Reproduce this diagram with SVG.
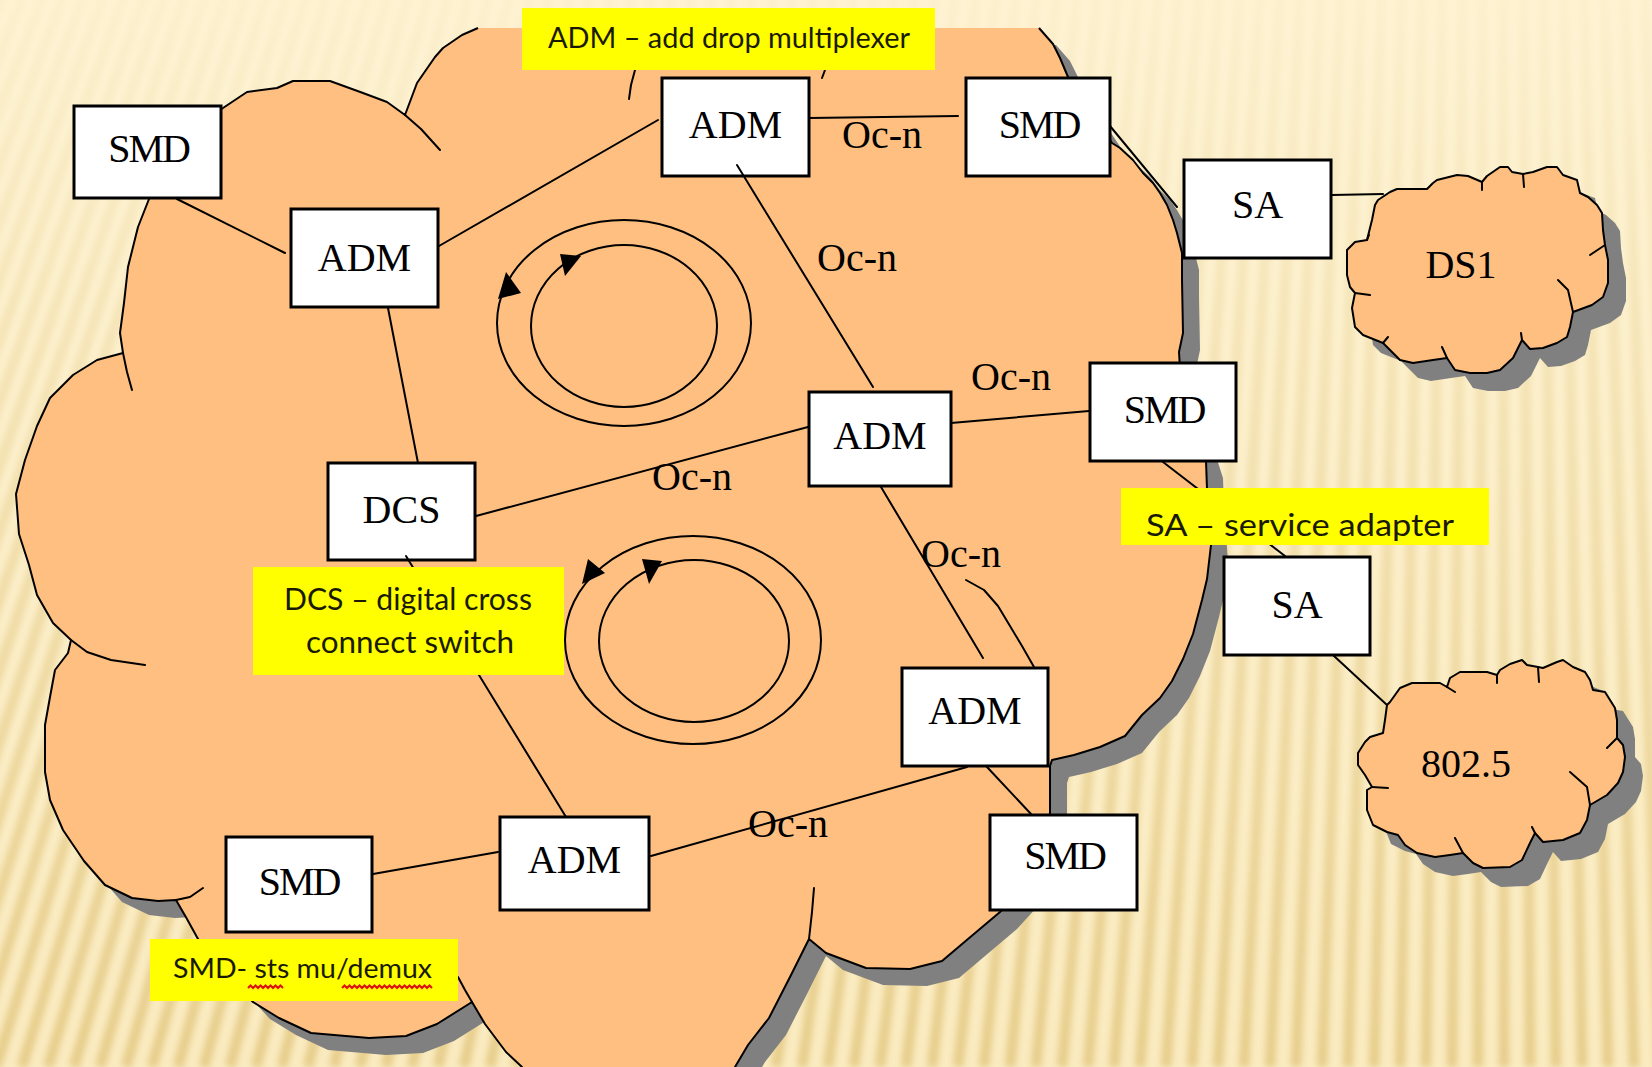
<svg xmlns="http://www.w3.org/2000/svg" width="1652" height="1067" viewBox="0 0 1652 1067">
<defs>
<linearGradient id="bg" x1="0" y1="0" x2="0" y2="1">
<stop offset="0" stop-color="#FEF3D4"/>
<stop offset="1" stop-color="#FAEBC0"/>
</linearGradient>
<linearGradient id="ray" gradientUnits="userSpaceOnUse" x1="0" y1="0" x2="0" y2="1067">
<stop offset="0" stop-color="#EBD59C" stop-opacity="0.12"/>
<stop offset="0.3" stop-color="#E9D295" stop-opacity="0.4"/>
<stop offset="1" stop-color="#E4C882" stop-opacity="0.85"/>
</linearGradient>
<filter id="soft" filterUnits="userSpaceOnUse" x="0" y="0" width="1652" height="1067">
<feGaussianBlur stdDeviation="3"/>
</filter>
<path id="mainCloud" d="M1039,28 L1053,44 L1060,58 L1068,77 L1090,110 L1112,143 L1120,148 L1133,160 L1143,173 L1153,183 L1160,193 L1167,205 L1173,220 L1177,233 L1182,253 L1182,280 L1183,333 L1179,352 L1181,385 L1196,430 L1206,461 L1207,489 L1211,545 L1207,579 L1202,600 L1193,634 L1183,659 L1172,681 L1160,698 L1142,715 L1125,736 L1100,747 L1074,755 L1052,760 L1050,766 L1050,813 L1040,860 L1020,890 L1000,912 L968,939 L942,961 L910,969 L866,968 L826,953 L809,939 L790,977 L769,1018 L748,1045 L735,1067 L735,1090 L522,1090 L522,1067 L506,1052 L485,1024 L472,1002 L437,1024 L406,1036 L369,1038 L311,1033 L279,1018 L253,1002 L225,972 L198,939 L187,919 L176,900 L158,901 L132,898 L105,885 L84,861 L63,830 L50,800 L45,772 L45,725 L50,697 L55,670 L68,653 L71,640 L53,623 L37,595 L29,565 L19,534 L16,494 L25,460 L37,426 L50,398 L73,375 L97,360 L123,353 L120,333 L124,303 L128,267 L138,227 L149,199 L160,150 L223,108 L247,92 L277,88 L293,81 L330,81 L363,93 L387,102 L405,115 L417,83 L435,57 L443,48 L462,35 L478,28"/>
<path id="ds1Cloud" d="M1378,200 L1390,192 L1397,189 L1427,189 L1433,183 L1437,180 L1457,175 L1468,176 L1482,182 L1487,176 L1500,167 L1508,167 L1512,172 L1523,174 L1533,172 L1547,167 L1557,167 L1563,175 L1577,180 L1580,193 L1588,197 L1597,205 L1602,213 L1603,230 L1605,245 L1608,260 L1608,283 L1603,297 L1592,305 L1573,312 L1570,327 L1567,337 L1557,343 L1543,348 L1530,349 L1522,340 L1513,358 L1500,370 L1487,373 L1470,373 L1455,370 L1447,358 L1433,360 L1413,363 L1400,360 L1392,352 L1383,343 L1363,335 L1355,327 L1352,308 L1355,293 L1350,287 L1347,275 L1347,250 L1355,242 L1367,240 L1369,232 L1372,220 L1375,205 Z"/>
<path id="lanCloud" d="M1387,705 L1390,702 L1400,688 L1412,683 L1440,683 L1447,687 L1450,678 L1460,672 L1487,672 L1497,675 L1500,670 L1510,664 L1522,660 L1527,665 L1538,667 L1543,668 L1557,662 L1563,660 L1573,667 L1585,672 L1590,680 L1593,690 L1605,692 L1610,700 L1615,708 L1617,720 L1617,738 L1623,745 L1625,757 L1623,772 L1618,783 L1607,795 L1590,805 L1587,820 L1580,833 L1563,840 L1543,842 L1535,833 L1530,843 L1522,860 L1510,867 L1483,868 L1473,863 L1463,853 L1450,855 L1435,857 L1417,853 L1405,845 L1398,835 L1387,832 L1373,825 L1367,810 L1367,790 L1372,787 L1365,775 L1358,765 L1358,753 L1365,742 L1370,737 L1383,733 L1385,720 Z"/>
</defs>
<style>
.box{fill:#fff;stroke:#000;stroke-width:3}
.lbl{font-family:"Liberation Serif","Times New Roman",serif;font-size:40px;fill:#000;text-anchor:middle}
.smd{letter-spacing:-2px}
.oc{font-family:"Liberation Serif","Times New Roman",serif;font-size:40px;fill:#000}
.cloud{fill:#FFBF80;stroke:#000;stroke-width:2;stroke-linejoin:round}
.shadow{fill:#808080}
.ln{fill:none;stroke:#000;stroke-width:2;stroke-linecap:round;stroke-linejoin:round}
.note{fill:#FFFF00}
.nt{font-family:Lato,"Open Sans",sans-serif;fill:#1a1a00}
.sq{fill:none;stroke:#E01010;stroke-width:2}
</style>

<g id="background">
<rect x="0" y="0" width="1652" height="1067" fill="url(#bg)"/>
<g filter="url(#soft)">
<path fill="none" stroke="url(#ray)" stroke-width="11" d="M1500 -3800L-420 1067M1500 -3800L-394 1067M1500 -3800L-368 1067M1500 -3800L-342 1067M1500 -3800L-316 1067M1500 -3800L-290 1067M1500 -3800L-264 1067M1500 -3800L-238 1067M1500 -3800L-212 1067M1500 -3800L-186 1067M1500 -3800L-160 1067M1500 -3800L-134 1067M1500 -3800L-108 1067M1500 -3800L-82 1067M1500 -3800L-56 1067M1500 -3800L-30 1067M1500 -3800L-4 1067M1500 -3800L22 1067M1500 -3800L48 1067M1500 -3800L74 1067M1500 -3800L100 1067M1500 -3800L126 1067M1500 -3800L152 1067M1500 -3800L178 1067M1500 -3800L204 1067M1500 -3800L230 1067M1500 -3800L256 1067M1500 -3800L282 1067M1500 -3800L308 1067M1500 -3800L334 1067M1500 -3800L360 1067M1500 -3800L386 1067M1500 -3800L412 1067M1500 -3800L438 1067M1500 -3800L464 1067M1500 -3800L490 1067M1500 -3800L516 1067M1500 -3800L542 1067M1500 -3800L568 1067M1500 -3800L594 1067M1500 -3800L620 1067M1500 -3800L646 1067M1500 -3800L672 1067M1500 -3800L698 1067M1500 -3800L724 1067M1500 -3800L750 1067M1500 -3800L776 1067M1500 -3800L802 1067M1500 -3800L828 1067M1500 -3800L854 1067M1500 -3800L880 1067M1500 -3800L906 1067M1500 -3800L932 1067M1500 -3800L958 1067M1500 -3800L984 1067M1500 -3800L1010 1067M1500 -3800L1036 1067M1500 -3800L1062 1067M1500 -3800L1088 1067M1500 -3800L1114 1067M1500 -3800L1140 1067M1500 -3800L1166 1067M1500 -3800L1192 1067M1500 -3800L1218 1067M1500 -3800L1244 1067M1500 -3800L1270 1067M1500 -3800L1296 1067M1500 -3800L1322 1067M1500 -3800L1348 1067M1500 -3800L1374 1067M1500 -3800L1400 1067M1500 -3800L1426 1067M1500 -3800L1452 1067M1500 -3800L1478 1067M1500 -3800L1504 1067M1500 -3800L1530 1067M1500 -3800L1556 1067M1500 -3800L1582 1067M1500 -3800L1608 1067M1500 -3800L1634 1067M1500 -3800L1660 1067M1500 -3800L1686 1067"/>
</g>
</g>

<g id="shadows" class="shadow">
<use href="#mainCloud" transform="translate(17,17)"/>
<use href="#ds1Cloud" transform="translate(18,18)"/>
<use href="#lanCloud" transform="translate(18,19)"/>
</g>

<g id="sonet-cloud">
<use href="#mainCloud" class="cloud"/>
<path class="ln" d="M405,115 L421,129 L440,150 M123,353 L127,372 L132,390 M71,640 L87,652 L111,660 L145,665 M176,900 L190,897 L203,888 M472,1002 L465,990 L458,977 M809,939 L812,912 L814,888 M966,580 L984,590 L998,606 L1010,626 L1022,646 L1034,667 M629,99 L631,85 L635,70 M822,78 L825,70"/>
</g>

<g id="cloud-ds1">
<use href="#ds1Cloud" class="cloud"/>
<path class="ln" d="M1482,182 L1482,190 M1523,174 L1524,187 M1605,245 L1590,255 M1573,312 L1568,290 L1558,280 M1522,340 L1521,333 M1447,358 L1442,347 M1383,343 L1388,337 M1355,293 L1370,295 M1367,240 L1369,235"/>
<text class="lbl" x="1461" y="278">DS1</text>
</g>

<g id="cloud-8025">
<use href="#lanCloud" class="cloud"/>
<path class="ln" d="M1447,687 L1455,692 M1497,675 L1497,683 M1538,667 L1539,682 M1617,738 L1607,748 M1590,805 L1587,787 L1570,772 M1535,833 L1532,827 M1463,853 L1455,838 M1372,787 L1388,788"/>
<text class="lbl" x="1466" y="777">802.5</text>
</g>

<g id="ring-top">
<ellipse class="ln" cx="624" cy="323" rx="127" ry="103"/>
<ellipse class="ln" cx="624" cy="326" rx="93" ry="81"/>
<polygon points="506,272 498,299 521,293" fill="#000"/>
<polygon points="560,254 581,256 565,276" fill="#000"/>
</g>
<g id="ring-bottom">
<ellipse class="ln" cx="693" cy="640" rx="128" ry="104"/>
<ellipse class="ln" cx="694" cy="641" rx="95" ry="81"/>
<polygon points="588,559 605,573 582,584" fill="#000"/>
<polygon points="642,559 662,561 649,584" fill="#000"/>
</g>

<g id="smd-tl"><rect class="box" x="74" y="106" width="147" height="92"/><text class="lbl smd" x="148.5" y="162">SMD</text></g>
<g id="adm-left"><rect class="box" x="291" y="209" width="147" height="98"/><text class="lbl" x="364.5" y="271">ADM</text></g>
<g id="adm-top"><rect class="box" x="662" y="78" width="147" height="98"/><text class="lbl" x="735.5" y="138">ADM</text></g>
<g id="smd-tr"><rect class="box" x="966" y="78" width="144" height="98"/><text class="lbl smd" x="1039" y="138">SMD</text></g>
<g id="sa-top"><rect class="box" x="1184" y="160" width="147" height="98"/><text class="lbl" x="1257.5" y="218">SA</text></g>
<g id="adm-mid"><rect class="box" x="809" y="392" width="142" height="94"/><text class="lbl" x="880" y="449">ADM</text></g>
<g id="smd-mid"><rect class="box" x="1090" y="363" width="146" height="98"/><text class="lbl smd" x="1164" y="423">SMD</text></g>
<g id="dcs"><rect class="box" x="328" y="463" width="147" height="97"/><text class="lbl" x="401.5" y="523">DCS</text></g>
<g id="sa-low"><rect class="box" x="1224" y="557" width="146" height="98"/><text class="lbl" x="1297" y="618">SA</text></g>
<g id="adm-lr"><rect class="box" x="902" y="668" width="146" height="98"/><text class="lbl" x="975" y="724">ADM</text></g>
<g id="smd-br"><rect class="box" x="990" y="815" width="147" height="95"/><text class="lbl smd" x="1064.5" y="869">SMD</text></g>
<g id="adm-bot"><rect class="box" x="500" y="817" width="149" height="93"/><text class="lbl" x="574.5" y="873">ADM</text></g>
<g id="smd-bl"><rect class="box" x="226" y="837" width="146" height="95"/><text class="lbl smd" x="299" y="895">SMD</text></g>

<g id="connectors">
<path class="ln" d="M177,199 L285,253 M439,246 L658,120 M388,308 L418,463 M809,118 L958,116 M737,165 L873,387 M1110,126 L1177,207 M1332,195 L1383,194 M951,423 L1089,411 M476,516 L808,427 M881,487 L983,658 M1163,462 L1285,556 M1334,656 L1387,705 M987,767 L1031,814 M967,767 L651,856 M498,852 L373,874 M406,556 L566,817"/>
<text class="oc" x="842" y="148">Oc-n</text>
<text class="oc" x="817" y="271">Oc-n</text>
<text class="oc" x="971" y="390">Oc-n</text>
<text class="oc" x="652" y="490">Oc-n</text>
<text class="oc" x="921" y="567">Oc-n</text>
<text class="oc" x="748" y="837">Oc-n</text>
</g>

<g id="note-adm">
<rect class="note" x="522" y="8" width="413" height="62"/>
<text class="nt" x="548" y="48" font-size="28" textLength="362" lengthAdjust="spacingAndGlyphs">ADM – add drop multiplexer</text>
</g>
<g id="note-sa">
<rect class="note" x="1121" y="488" width="368" height="57"/>
<text class="nt" x="1146" y="536" font-size="31" textLength="308" lengthAdjust="spacingAndGlyphs">SA – service adapter</text>
</g>
<g id="note-dcs">
<rect class="note" x="253" y="567" width="311" height="108"/>
<text class="nt" x="284" y="610" font-size="30" textLength="248" lengthAdjust="spacingAndGlyphs">DCS – digital cross</text>
<text class="nt" x="306" y="653" font-size="30" textLength="208" lengthAdjust="spacingAndGlyphs">connect switch</text>
</g>
<g id="note-smd">
<rect class="note" x="150" y="939" width="308" height="62"/>
<text class="nt" x="173" y="978" font-size="26" textLength="259" lengthAdjust="spacingAndGlyphs">SMD- sts mu/demux</text>
<path class="sq" d="M248,988 l2.5,-2.5 l2.5,2.5 l2.5,-2.5 l2.5,2.5 l2.5,-2.5 l2.5,2.5 l2.5,-2.5 l2.5,2.5 l2.5,-2.5 l2.5,2.5 l2.5,-2.5 l2.5,2.5 l2.5,-2.5 l2.5,2.5 M342,988 l2.5,-2.5 l2.5,2.5 l2.5,-2.5 l2.5,2.5 l2.5,-2.5 l2.5,2.5 l2.5,-2.5 l2.5,2.5 l2.5,-2.5 l2.5,2.5 l2.5,-2.5 l2.5,2.5 l2.5,-2.5 l2.5,2.5 l2.5,-2.5 l2.5,2.5 l2.5,-2.5 l2.5,2.5 l2.5,-2.5 l2.5,2.5 l2.5,-2.5 l2.5,2.5 l2.5,-2.5 l2.5,2.5 l2.5,-2.5 l2.5,2.5 l2.5,-2.5 l2.5,2.5 l2.5,-2.5 l2.5,2.5 l2.5,-2.5 l2.5,2.5 l2.5,-2.5 l2.5,2.5 l2.5,-2.5 l2.5,2.5"/>
</g>
</svg>
